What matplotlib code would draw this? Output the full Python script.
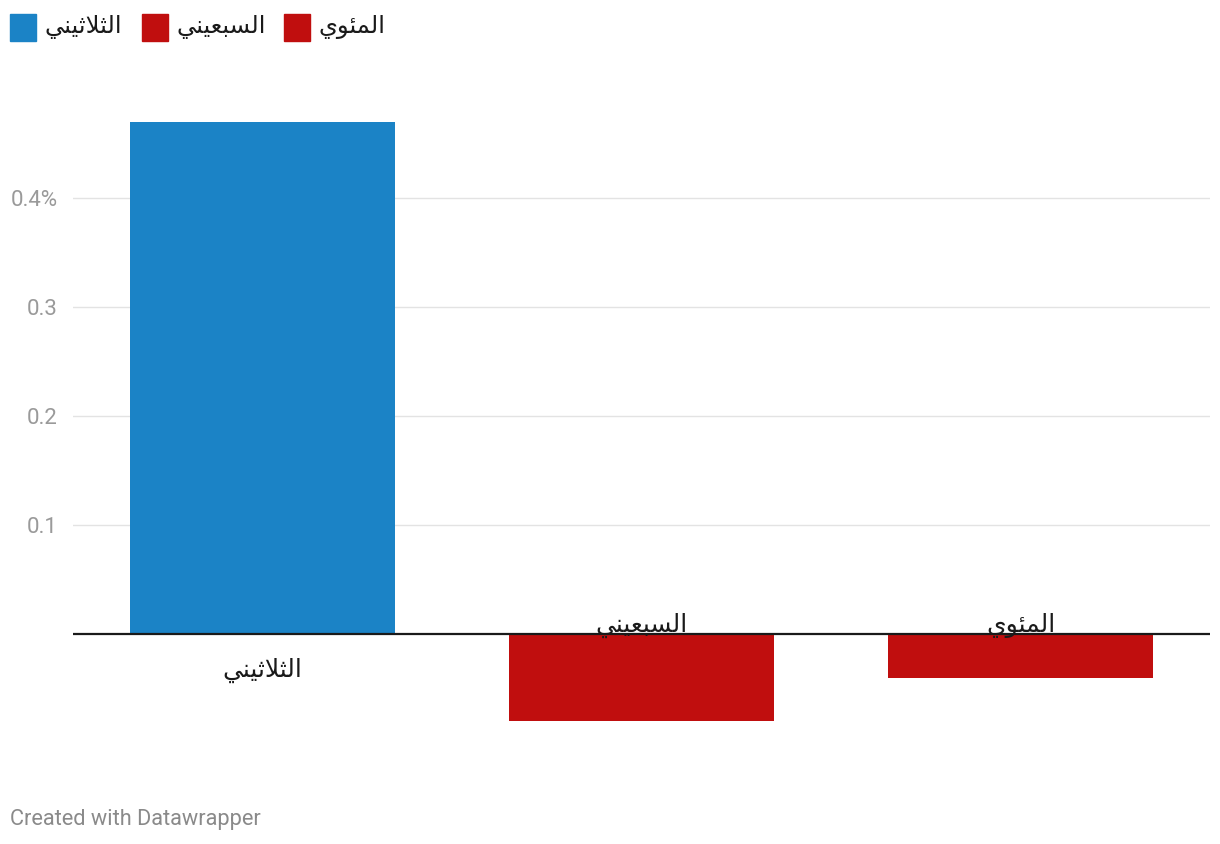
import matplotlib
matplotlib.use("Agg")
import matplotlib.pyplot as plt
from matplotlib.patches import Rectangle


# category names (logical order) and values in percent
categories = ["الثلاثيني", "السبعيني", "المئوي"]
values = [0.47, -0.08, -0.04]
colors = ["#1b83c6", "#c00e0e", "#c00e0e"]
yticks = [0.1, 0.2, 0.3, 0.4]
ytick_labels = ["0.1", "0.2", "0.3", "0.4%"]

# matplotlib has no arabic shaping, so map letters to presentation forms
# (visual order, right to left already reversed)
shaped = {
    "الثلاثيني": "\uFEF2\uFEE8\uFEF4\uFE9B\uFEFC\uFE9C\uFEDF\uFE8D",
    "السبعيني": "\uFEF2\uFEE8\uFEF4\uFECC\uFE92\uFEB4\uFEDF\uFE8D",
    "المئوي": "\uFEF1\uFEEE\uFE8C\uFEE4\uFEDF\uFE8D",
}

W, H = 1220, 844
fig = plt.figure(figsize=(W / 100, H / 100), dpi=100)
ax = fig.add_axes([73 / W, 101 / H, (1210 - 73) / W, 643 / H])

x = list(range(len(categories)))
ax.bar(x, values, width=0.7, color=colors, zorder=2)

ax.set_xlim(-0.5, 2.5)
ax.set_ylim(-0.1, 0.49)
ax.set_yticks(yticks)
ax.set_yticklabels(ytick_labels, fontfamily="Roboto", fontsize=16, color="#9a9a9a")
ax.tick_params(axis="y", length=0, pad=11)
ax.set_xticks([])
ax.grid(axis="y", color="#e3e3e3", linewidth=1, zorder=0)
ax.axhline(0, color="#1a1a1a", linewidth=1.6, zorder=3)
for s in ax.spines.values():
    s.set_visible(False)

# category labels: under the axis for positive bars, above for negative
for i, (c, v) in enumerate(zip(categories, values)):
    off = -36 if v >= 0 else 9
    ax.annotate(shaped[c], (i, 0), xytext=(0, off), textcoords="offset pixels",
                ha="center", va="center", fontsize=18, fontfamily="DejaVu Sans",
                color="#1a1a1a", zorder=5, annotation_clip=False)

# legend along the top
lx = [10, 142, 284]
for px, c, col in zip(lx, categories, colors):
    fig.patches.append(Rectangle((px / W, 1 - 41 / H), 26 / W, 27 / H,
                                 transform=fig.transFigure, color=col))
    fig.text((px + 34) / W, 1 - 27 / H, shaped[c], ha="left", va="center",
             fontsize=17.5, fontfamily="DejaVu Sans", color="#1a1a1a")

fig.text(10 / W, 1 - 819 / H, "Created with Datawrapper", ha="left", va="center",
         fontsize=15.7, fontfamily="Roboto", color="#8a8a8a")

fig.savefig("out.png", dpi=100)
